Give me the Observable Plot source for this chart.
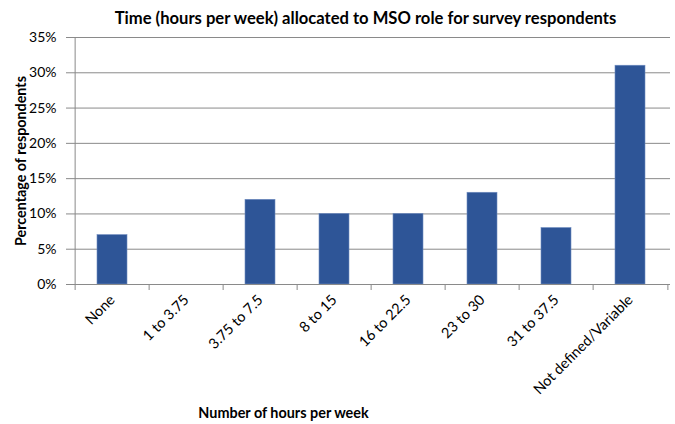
<!DOCTYPE html>
<html>
<head>
<meta charset="utf-8">
<script src="https://cdn.jsdelivr.net/npm/d3@7"></script>
<script src="https://cdn.jsdelivr.net/npm/@observablehq/plot@0.6"></script>
<style>
  html, body { margin: 0; padding: 0; background: #fff; }
  svg { font-family: Lato, "Open Sans", sans-serif; }
</style>
</head>
<body>
<div id="chart"></div>
<script>
const categories = ["None", "1 to 3.75", "3.75 to 7.5", "8 to 15", "16 to 22.5", "23 to 30", "31 to 37.5", "Not defined/Variable"];
const percentages = [0.07, 0, 0.12, 0.10, 0.10, 0.13, 0.08, 0.31];
const yTicks = [0, 0.05, 0.10, 0.15, 0.20, 0.25, 0.30, 0.35];
const chartTitle = "Time (hours per week) allocated to MSO role for survey respondents";
const xTitle = "Number of hours per week";
const yTitle = "Percentage of respondents";

const data = categories.map((c, i) => ({category: c, value: percentages[i]}));

const W = 675, H = 424;
const mL = 72, mR = 5, mT = 37, mB = 140;
const step = (W - mL - mR) / categories.length;
const grid = "#8a8a8a";

const chart = Plot.plot({
  width: W,
  height: H,
  marginLeft: mL,
  marginRight: mR,
  marginTop: mT,
  marginBottom: mB,
  style: {fontSize: "14px", fontFamily: "Lato, 'Open Sans', sans-serif", color: "#000", background: "#fff"},
  x: {domain: categories, paddingInner: 0.6, paddingOuter: 0.3},
  y: {domain: [0, 0.35]},
  marks: [
    Plot.gridY(yTicks, {stroke: grid, strokeOpacity: 1}),
    Plot.axisY(yTicks, {tickFormat: d => Math.round(d * 100) + "%", tickSize: 6, tickPadding: 10, stroke: grid, label: null, fontSize: 14}),
    Plot.ruleX([categories[0]], {dx: -step / 2, y1: 0, y2: 0.35, stroke: grid}),
    Plot.ruleX(categories, {dx: -step / 2, y1: 0, y2: 0, insetBottom: -6, stroke: grid}),
    Plot.ruleX([categories[categories.length - 1]], {dx: step / 2, y1: 0, y2: 0, insetBottom: -6, stroke: grid}),
    Plot.barY(data, {x: "category", y: "value", fill: "#2E5597", stroke: "#6f8cc0", strokeWidth: 0.6}),
    Plot.ruleY([0], {stroke: grid}),
    Plot.axisX({tickSize: 0, tickPadding: 13, tickRotate: -45, label: null, fontSize: 14.5}),
    Plot.text([chartTitle], {text: d => d, frameAnchor: "top", lineAnchor: "middle", textAnchor: "middle", dx: -6, dy: -19, fontSize: 16.6, fontWeight: "bold"}),
    Plot.text([yTitle], {text: d => d, frameAnchor: "left", lineAnchor: "middle", textAnchor: "middle", rotate: -90, dx: -51, dy: 0, fontSize: 14.3, fontWeight: "bold"}),
    Plot.text([xTitle], {text: d => d, frameAnchor: "bottom", lineAnchor: "middle", textAnchor: "middle", dx: -88, dy: 129, fontSize: 14.4, fontWeight: "bold"})
  ]
});
document.getElementById("chart").appendChild(chart);
</script>
</body>
</html>
